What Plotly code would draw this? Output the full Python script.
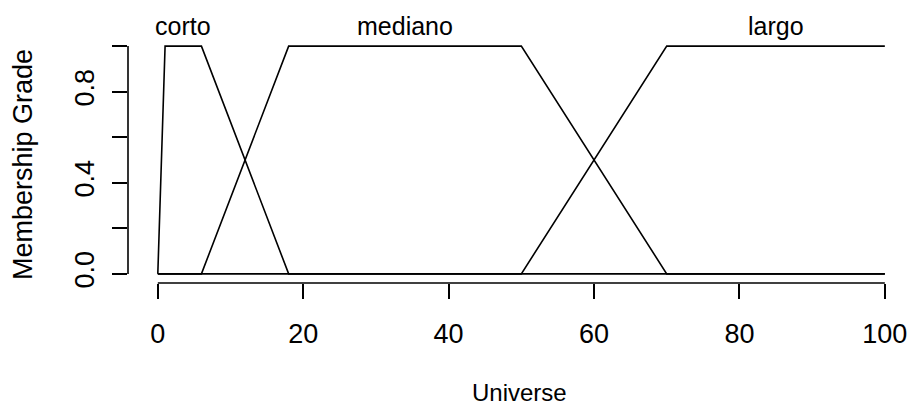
"""Funciones de pertenencia: corto / mediano / largo"""
import plotly.graph_objects as go

# universo 0..100, cada conjunto evaluado sobre todo el universo
corto_x = [0, 1, 6, 18, 100]
corto_y = [0, 1, 1, 0, 0]
mediano_x = [0, 6, 18, 50, 70, 100]
mediano_y = [0, 0, 1, 1, 0, 0]
largo_x = [0, 50, 70, 100]
largo_y = [0, 0, 1, 1]

set_names = ['corto', 'mediano', 'largo']
set_label_x = [3.5, 34, 85]
label_y = 1.087

x_ticks = [0, 20, 40, 60, 80, 100]
y_ticks = [0.0, 0.2, 0.4, 0.6, 0.8, 1.0]
y_tick_text = ['0.0', '', '0.4', '', '0.8', '']

X_RANGE = [-4.1, 103.6]
Y_RANGE = [-0.04, 1.04]

FONT = 'Liberation Sans, Arial, Helvetica, sans-serif'
LINE = dict(color='black', width=1.6)

fig = go.Figure()
for xs, ys, name in [(corto_x, corto_y, 'corto'),
                     (mediano_x, mediano_y, 'mediano'),
                     (largo_x, largo_y, 'largo')]:
    fig.add_trace(go.Scatter(x=xs, y=ys, mode='lines', name=name,
                             line=LINE, cliponaxis=False))

# nombres de los conjuntos sobre la meseta (fuera del rango -> yref paper)
label_paper_y = (label_y - Y_RANGE[0]) / (Y_RANGE[1] - Y_RANGE[0])
for name, lx in zip(set_names, set_label_x):
    fig.add_annotation(x=lx, y=label_paper_y, xref='x', yref='paper', text=name,
                       showarrow=False, yanchor='middle',
                       font=dict(size=25, color='black', family=FONT))

# ejes estilo R: la linea solo cubre el rango de ticks
fig.add_shape(type='line', xref='x', yref='paper', x0=x_ticks[0], x1=x_ticks[-1],
              y0=0, y1=0, line=LINE)
fig.add_shape(type='line', xref='paper', yref='y', x0=0, x1=0,
              y0=y_ticks[0], y1=y_ticks[-1], line=LINE)

fig.add_annotation(x=0.5, y=-0.445, xref='paper', yref='paper', text='Universe',
                   showarrow=False, yanchor='middle',
                   font=dict(size=24, color='black', family=FONT))
fig.add_annotation(x=-0.134, y=0.48, xref='paper', yref='paper', text='Membership Grade',
                   showarrow=False, textangle=-90, xanchor='center', yanchor='middle',
                   font=dict(size=27, color='black', family=FONT))

fig.update_xaxes(range=X_RANGE, tickvals=x_ticks, ticks='outside', ticklen=15,
                 tickwidth=1.6, tickcolor='black', showline=False, showgrid=False,
                 zeroline=False, ticklabelstandoff=12,
                 tickfont=dict(size=27, color='black', family=FONT))
fig.update_yaxes(range=Y_RANGE, tickvals=y_ticks, ticktext=y_tick_text,
                 ticks='outside', ticklen=15, tickwidth=1.6, tickcolor='black',
                 tickangle=-90, showline=False, showgrid=False, zeroline=False,
                 ticklabelstandoff=7,
                 tickfont=dict(size=27, color='black', family=FONT))

fig.update_layout(
    width=911, height=406,
    margin=dict(l=128, r=0, t=37, b=123),
    plot_bgcolor='white', paper_bgcolor='white',
    showlegend=False,
)

# sin margen del body ni barras de scroll, sin modebar
fig.write_html('out.html',
               config={'displayModeBar': False},
               post_script="document.body.style.margin='0';"
                           "document.body.style.overflow='hidden';")
